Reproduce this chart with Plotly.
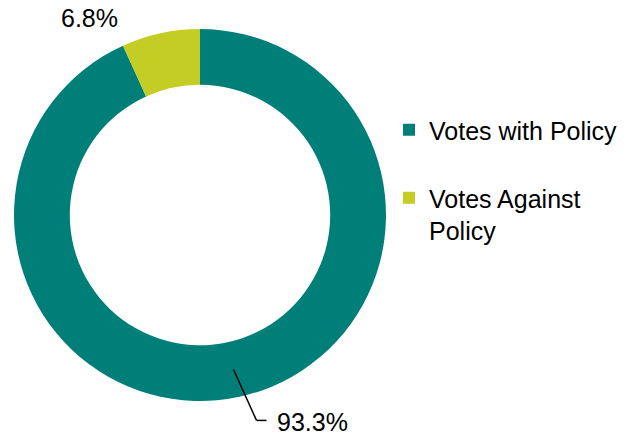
import math
import plotly.graph_objects as go

# ---- data ----
labels = ["Votes with Policy", "Votes Against Policy"]
legend_labels = ["Votes with Policy<br>\u00a0", "Votes Against<br>Policy"]
values = [93.3, 6.8]
value_text = ["93.3%", "6.8%"]
colors = ["#007F78", "#C3CD23"]

W, H = 644, 435
CX, CY, R = 200, 215, 186   # pie centre / radius in px (layout)
HOLE = 0.70
FONT = "Liberation Sans, Arial, sans-serif"
FS = 25

def px(x):
    return x / W

def py(y):
    return 1 - y / H

fig = go.Figure(go.Pie(
    labels=legend_labels,
    values=values,
    hole=HOLE,
    sort=False,
    direction="clockwise",
    rotation=0,
    marker=dict(colors=colors, line=dict(width=0)),
    textinfo="none",
    hoverinfo="label+percent",
    domain=dict(x=[px(CX - R), px(CX + R)], y=[py(CY + R), py(CY - R)]),
))

# label positions derived from slice mid-angles
total = sum(values)
cum = 0
mids = []
for v in values:
    mids.append((cum + v / 2) / total * 2 * math.pi)
    cum += v

annotations = []
shapes = []
# slice 0: leader line label
th = mids[0]
dx, dy = math.sin(th), -math.cos(th)
r_mid = R * (1 + HOLE) / 2
x0, y0 = CX + dx * r_mid, CY + dy * r_mid
r_el = R * 1.13
x1, y1 = CX + dx * r_el + 12, CY + dy * r_el
x2 = x1 + 10
shapes.append(dict(type="line", xref="paper", yref="paper", x0=px(x0), y0=py(y0), x1=px(x1), y1=py(y1),
                   line=dict(color="black", width=1.5)))
shapes.append(dict(type="line", xref="paper", yref="paper", x0=px(x1), y0=py(y1), x1=px(x2), y1=py(y1),
                   line=dict(color="black", width=1.5)))
annotations.append(dict(x=px(x2), y=py(y1), xref="paper", yref="paper", text=value_text[0],
                        showarrow=False, xanchor="left", yanchor="middle", xshift=8, yshift=-2,
                        font=dict(family=FONT, size=FS, color="black")))
# slice 1: outside label without leader
th = mids[1]
dx, dy = math.sin(th), -math.cos(th)
r_l = R * 1.12
xl, yl = CX + dx * r_l, CY + dy * r_l
annotations.append(dict(x=px(xl), y=py(yl), xref="paper", yref="paper", text=value_text[1],
                        showarrow=False, xanchor="center", yanchor="middle", xshift=-66, yshift=-7,
                        font=dict(family=FONT, size=FS, color="black")))

fig.update_layout(
    width=W, height=H,
    margin=dict(l=0, r=0, t=0, b=0),
    paper_bgcolor="white",
    plot_bgcolor="white",
    showlegend=True,
    legend=dict(x=px(389), y=py(107), xanchor="left", yanchor="top", valign="top",
                font=dict(family=FONT, size=FS, color="black"),
                bgcolor="rgba(0,0,0,0)", itemclick=False),
    annotations=annotations,
    shapes=shapes,
)

fig.write_html("out.html")
